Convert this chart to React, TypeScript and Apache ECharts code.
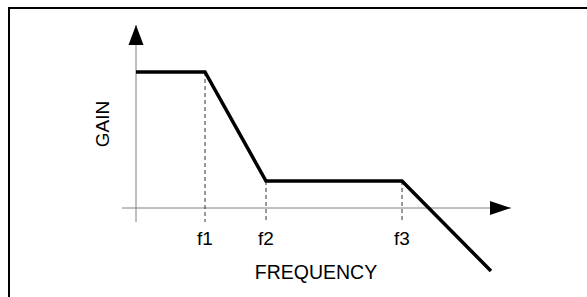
import React, { useEffect, useRef } from "react";
import * as echarts from "echarts";

// Notional units: the frequency axis crosses at 0, the gain axis crosses at 0
const xRange = [-14, 375];
const yRange = [-63, 183];
const freqAxisLine = [[-14, 0], [375, 0]];
const gainAxisLine = [[0, -14], [0, 183]];
// arrow tips: [x, y, direction] (0 = right, 1 = up)
const arrowTips = [[375, 0, 0], [0, 183, 1]];
// gain response corner points
const responseX = [0, 69, 130, 266, 355];
const responseY = [136, 136, 27, 27, -63];
// guide lines at corner frequencies
const cornerNames = ["f1", "f2", "f3"];
const cornerX = [69, 130, 266];
const cornerGain = [136, 27, 27];
const guideBottom = -14;

const FONT = "Liberation Sans, Arial, sans-serif";

export default function App() {
  const ref = useRef<HTMLDivElement>(null);
  useEffect(() => {
    if (!ref.current) return;
    const chart = echarts.init(ref.current, null, { renderer: "svg" });
    const guideSeries = cornerX.map((x, i) => ({
      type: "line",
      data: [[x, cornerGain[i]], [x, guideBottom]],
      symbol: "none",
      silent: true,
      z: 1,
      lineStyle: { color: "#333", width: 1, type: [4, 3] },
    }));
    chart.setOption({
      animation: false,
      grid: { left: 122, top: 25, width: 389, height: 246 },
      xAxis: { type: "value", min: xRange[0], max: xRange[1], show: false },
      yAxis: { type: "value", min: yRange[0], max: yRange[1], show: false },
      graphic: [
        {
          type: "rect",
          shape: { x: 9, y: 8, width: 700, height: 500 },
          style: { fill: "none", stroke: "#000", lineWidth: 2 },
          silent: true,
        },
        {
          type: "text",
          x: 102.5,
          y: 124,
          rotation: Math.PI / 2,
          style: {
            text: "GAIN",
            font: `19px ${FONT}`,
            fill: "#000",
            align: "center",
            verticalAlign: "middle",
          },
        },
        {
          type: "text",
          x: 316,
          y: 271.5,
          style: {
            text: "FREQUENCY",
            font: `19.5px ${FONT}`,
            fill: "#000",
            align: "center",
            verticalAlign: "middle",
          },
        },
      ],
      series: [
        {
          type: "line",
          data: freqAxisLine,
          symbol: "none",
          silent: true,
          z: 1,
          lineStyle: { color: "#808080", width: 1 },
        },
        {
          type: "line",
          data: gainAxisLine,
          symbol: "none",
          silent: true,
          z: 1,
          lineStyle: { color: "#808080", width: 1 },
        },
        ...guideSeries,
        {
          type: "line",
          data: responseX.map((x, i) => [x, responseY[i]]),
          symbol: "none",
          silent: true,
          z: 3,
          lineStyle: { color: "#000", width: 3.5, join: "miter" },
        },
        {
          type: "custom",
          z: 4,
          silent: true,
          data: arrowTips,
          renderItem: (params: any, api: any) => {
            const p = api.coord([api.value(0), api.value(1)]);
            const dir = api.value(2);
            const pts =
              dir === 0
                ? [[p[0], p[1]], [p[0] - 21, p[1] - 7], [p[0] - 21, p[1] + 7]]
                : [[p[0], p[1]], [p[0] - 7.5, p[1] + 20], [p[0] + 7.5, p[1] + 20]];
            return { type: "polygon", shape: { points: pts }, style: { fill: "#000" } };
          },
        },
        {
          type: "custom",
          z: 4,
          silent: true,
          data: cornerX.map((x, i) => [x, guideBottom, i]),
          renderItem: (params: any, api: any) => {
            const p = api.coord([api.value(0), api.value(1)]);
            return {
              type: "text",
              x: p[0],
              y: p[1] + 16.5,
              style: {
                text: cornerNames[params.dataIndex],
                font: `19px ${FONT}`,
                fill: "#000",
                align: "center",
                verticalAlign: "middle",
              },
            };
          },
        },
      ],
    });
    return () => chart.dispose();
  }, []);
  return (
    <div
      ref={ref}
      style={{ position: "fixed", left: 0, top: 0, width: 587, height: 297, background: "#fff" }}
    />
  );
}
